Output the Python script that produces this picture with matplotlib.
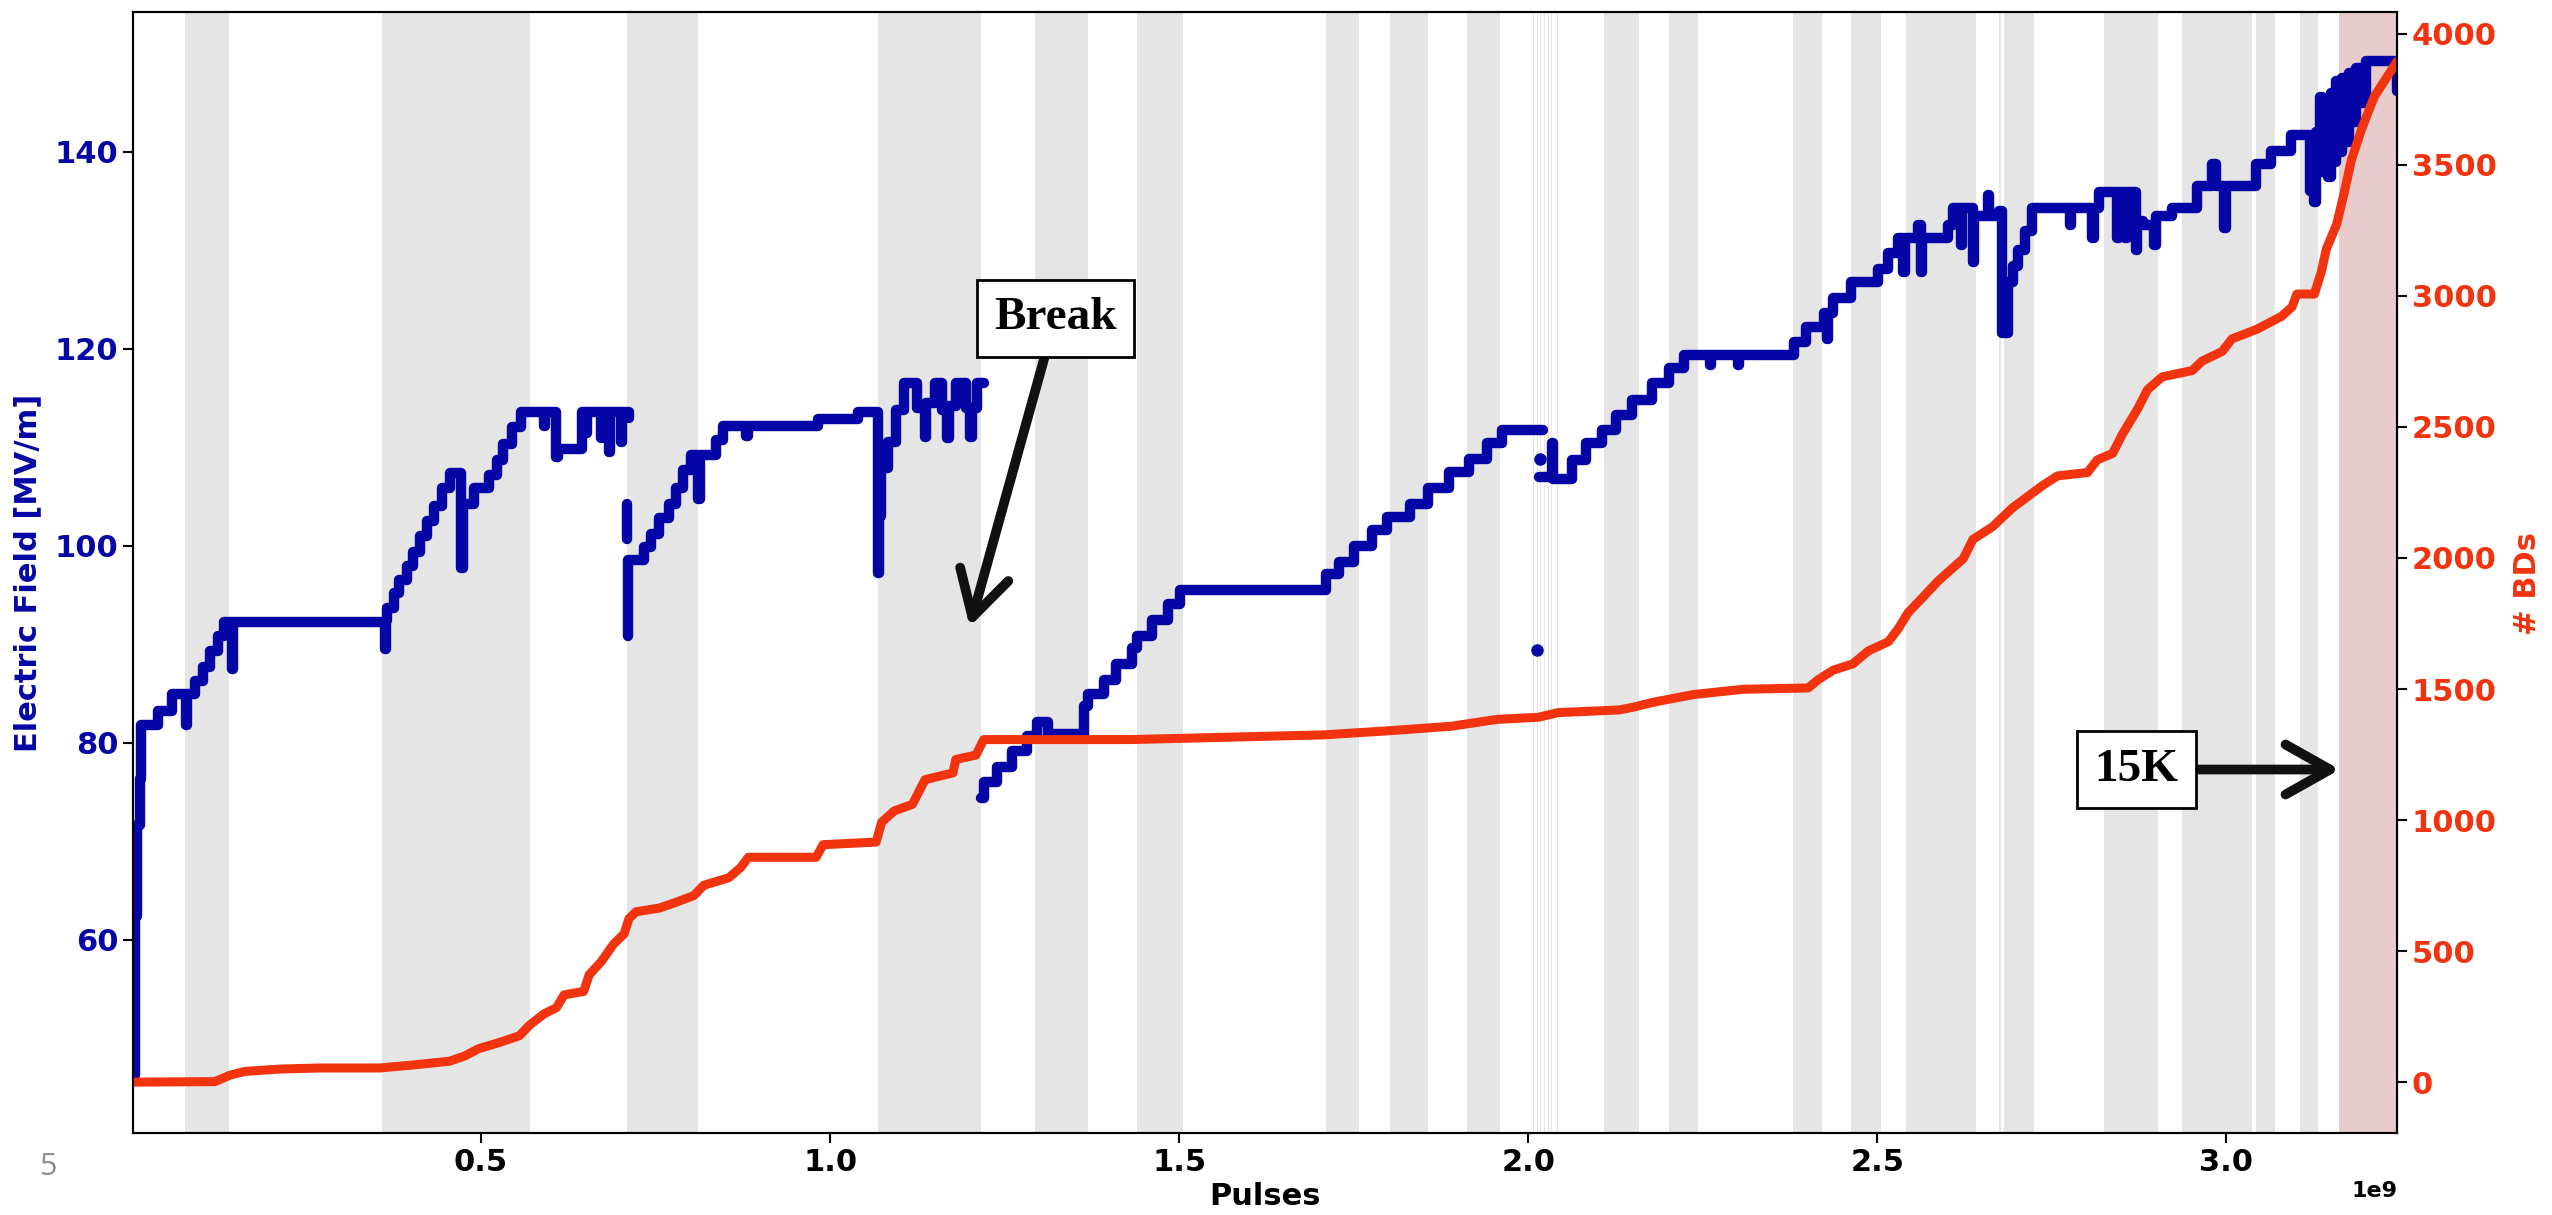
import numpy as np
import matplotlib.pyplot as plt

# x values are in units of 1e9 pulses
blue_pulses = [0.0015, 0.004, 0.008, 0.011, 0.013, 0.037, 0.057, 0.077, 0.079, 0.091,
               0.102, 0.112, 0.123, 0.132, 0.143, 0.145, 0.362, 0.364, 0.366, 0.376,
               0.383, 0.394, 0.403, 0.412, 0.423, 0.433, 0.444, 0.455, 0.472, 0.474,
               0.490, 0.512, 0.523, 0.532, 0.544, 0.558, 0.590, 0.592, 0.608, 0.610,
               0.644, 0.650, 0.652, 0.672, 0.674, 0.683, 0.685, 0.700, 0.702, 0.7115,
               np.nan,
               0.7085, 0.7085,
               np.nan,
               0.710, 0.711, 0.733, 0.744, 0.755, 0.769, 0.780, 0.790, 0.801, 0.811,
               0.813, 0.836, 0.847, 0.880, 0.882, 0.975, 0.983, 1.040, 1.068, 1.070,
               1.073, 1.083, 1.094, 1.106, 1.125, 1.136, 1.138, 1.150, 1.160, 1.168,
               1.170, 1.180, 1.195, 1.201, 1.203, 1.210, 1.220,
               np.nan,
               1.2165, 1.220, 1.2385, 1.260, 1.282, 1.297, 1.3116, 1.363, 1.370, 1.392,
               1.410, 1.432, 1.4397, 1.4616, 1.4835, 1.5018, 1.710, 1.7286, 1.7505, 1.776,
               1.798, 1.831, 1.8565, 1.886, 1.915, 1.941, 1.9626, 2.021,
               np.nan,
               2.016, 2.034, 2.036, 2.063, 2.083, 2.106, 2.126, 2.148, 2.177, 2.202,
               2.223, 2.260, 2.262, 2.300, 2.302, 2.380, 2.398, 2.423, 2.428, 2.430,
               2.437, 2.462, 2.501, 2.516, 2.530, 2.537, 2.539, 2.558, 2.562, 2.564,
               2.601, 2.608, 2.620, 2.622, 2.637, 2.639, 2.658, 2.660, 2.675, 2.679,
               2.687, 2.694, 2.701, 2.712, 2.722, 2.776, 2.778, 2.808, 2.810, 2.817,
               2.844, 2.846, 2.855, 2.857, 2.870, 2.872, 2.880, 2.897, 2.899, 2.922,
               2.958, 2.979, 2.985, 2.997, 2.999, 3.015, 3.043, 3.064, 3.093, 3.118,
               3.120, 3.123, 3.125, 3.128, 3.134, 3.137, 3.141, 3.145, 3.150, 3.153,
               3.157, 3.160, 3.165, 3.170, 3.176, 3.180, 3.186, 3.192, 3.200, 3.243,
               3.2445]
blue_field = [46.3, 62.4, 71.7, 76.3, 81.8, 83.2, 85.0, 81.8, 85.0, 86.3,
              87.7, 89.3, 90.9, 92.3, 87.5, 92.3, 89.5, 92.5, 93.7, 95.2,
              96.5, 98.0, 99.4, 101.0, 102.5, 104.1, 105.9, 107.4, 97.8, 104.3,
              105.9, 107.2, 108.7, 110.3, 112.1, 113.6, 112.2, 113.6, 109.0, 109.8,
              113.6, 111.5, 113.6, 111.0, 113.6, 109.5, 113.6, 110.5, 113.6, 113.0,
              np.nan,
              104.3, 100.7,
              np.nan,
              90.9, 98.6, 99.9, 101.2, 102.8, 104.3, 105.9, 107.7, 109.2, 104.8,
              109.2, 110.8, 112.2, 111.2, 112.2, 112.2, 112.9, 113.6, 97.3, 103.0,
              107.9, 110.5, 113.8, 116.5, 114.0, 111.1, 114.5, 116.5, 113.8, 111.0,
              114.2, 116.5, 114.0, 111.1, 114.0, 116.5, 116.5,
              np.nan,
              74.4, 76.0, 77.6, 79.2, 80.7, 82.1, 80.9, 83.7, 85.0, 86.4,
              88.0, 89.6, 90.9, 92.5, 94.1, 95.5, 97.1, 98.4, 100.0, 101.6,
              102.9, 104.3, 105.9, 107.5, 108.8, 110.4, 111.8, 111.8,
              np.nan,
              107.0, 110.4, 106.8, 108.7, 110.4, 111.8, 113.3, 114.8, 116.5, 118.1,
              119.4, 118.4, 119.4, 118.4, 119.4, 120.7, 122.2, 123.6, 121.0, 123.6,
              125.2, 126.8, 128.1, 129.7, 131.3, 127.8, 131.3, 132.6, 127.8, 131.3,
              132.6, 134.3, 130.5, 134.3, 128.8, 133.5, 135.6, 133.5, 134.0, 121.6,
              126.8, 128.4, 130.0, 132.0, 134.3, 132.6, 134.3, 131.3, 134.3, 135.9,
              131.3, 135.9, 131.3, 135.9, 130.0, 133.0, 132.6, 130.5, 133.5, 134.3,
              136.5, 138.8, 136.5, 132.3, 136.5, 136.5, 138.8, 140.1, 141.7, 141.7,
              136.0, 141.7, 134.9, 142.0, 145.6, 138.0, 144.0, 137.5, 146.0, 139.0,
              147.2, 140.0, 147.5, 141.0, 148.0, 143.0, 148.5, 145.0, 149.2, 149.2,
              146.2]

# isolated readings around the 2.0e9 gap
dot_pulses = [2.013, 2.0175]
dot_field = [89.4, 108.8]

bd_pulses = [0.0015, 0.119, 0.1408, 0.162, 0.212, 0.269, 0.355, 0.405, 0.455, 0.476,
             0.497, 0.526, 0.555, 0.569, 0.590, 0.608, 0.619, 0.647, 0.655, 0.672,
             0.690, 0.705, 0.712, 0.722, 0.755, 0.776, 0.805, 0.819, 0.855, 0.872,
             0.883, 0.980, 0.990, 1.066, 1.074, 1.092, 1.118, 1.136, 1.176, 1.180,
             1.209, 1.220, 1.429, 1.707, 1.802, 1.890, 1.955, 2.014, 2.043, 2.130,
             2.151, 2.180, 2.237, 2.308, 2.401, 2.415, 2.437, 2.465, 2.487, 2.516,
             2.530, 2.544, 2.566, 2.587, 2.623, 2.637, 2.665, 2.694, 2.737, 2.758,
             2.801, 2.815, 2.837, 2.851, 2.873, 2.887, 2.908, 2.951, 2.965, 2.994,
             3.008, 3.044, 3.079, 3.094, 3.101, 3.126, 3.136, 3.143, 3.158, 3.169,
             3.179, 3.194, 3.212, 3.2445]
bd_count = [0, 2, 27, 41, 50, 54, 54, 66, 80, 99,
            128, 151, 177, 216, 260, 284, 333, 346, 410, 459,
            527, 566, 624, 650, 664, 683, 712, 751, 780, 819,
            858, 858, 906, 916, 992, 1035, 1060, 1154, 1180, 1231,
            1248, 1307, 1307, 1325, 1341, 1358, 1384, 1392, 1410, 1420,
            1431, 1450, 1479, 1499, 1504, 1535, 1572, 1596, 1645, 1681,
            1730, 1791, 1852, 1912, 1997, 2071, 2119, 2192, 2277, 2313,
            2326, 2374, 2399, 2472, 2569, 2642, 2691, 2715, 2751, 2788,
            2836, 2873, 2922, 2958, 3007, 3007, 3092, 3177, 3274, 3396,
            3518, 3639, 3761, 3895]

# conditioning pauses (grey) and the final 15K period (pink)
pause_start = [0.0765, 0.358, 0.709, 1.068, 1.293, 1.440, 1.710, 1.802, 1.912, 2.109,
               2.201, 2.379, 2.463, 2.541, 2.681, 2.824, 2.937, 3.043, 3.105]
pause_end = [0.1395, 0.570, 0.811, 1.216, 1.370, 1.505, 1.758, 1.856, 1.960, 2.159,
             2.243, 2.421, 2.505, 2.641, 2.725, 2.902, 3.036, 3.069, 3.131]
short_pauses = [2.007, 2.012, 2.017, 2.022, 2.028, 2.032, 2.041, 2.675]
final_start, final_end = 3.162, 3.2445

BLUE = '#0606a6'
RED = '#f2330f'

plt.rcParams['font.family'] = 'DejaVu Sans'
plt.rcParams['font.weight'] = 'bold'
plt.rcParams['axes.labelweight'] = 'bold'

fig = plt.figure(figsize=(25.52, 12.15), dpi=100)
ax1 = fig.add_axes([0.0521, 0.0675, 0.8872, 0.9226])

for s, e in zip(pause_start, pause_end):
    ax1.axvspan(s * 1e9, e * 1e9, color='grey', alpha=0.2, lw=0)
for s in short_pauses:
    ax1.axvspan(s * 1e9, (s + 0.0015) * 1e9, color='grey', alpha=0.2, lw=0)
ax1.axvspan(final_start * 1e9, final_end * 1e9, color='#e8cccd', lw=0)

bx = np.array(blue_pulses) * 1e9
ax1.plot(bx, blue_field, color=BLUE, lw=7.5, drawstyle='steps-post',
         solid_joinstyle='round', solid_capstyle='round')
ax1.plot(np.array(dot_pulses) * 1e9, dot_field, 'o', color=BLUE, ms=8)

ax1.set_xlim(0.0015e9, 3.2445e9)
ax1.set_ylim(40.4, 154.2)
ax1.set_xticks(np.array([0.5, 1.0, 1.5, 2.0, 2.5, 3.0]) * 1e9)
ax1.set_yticks([60, 80, 100, 120, 140])
ax1.tick_params(axis='both', labelsize=22, width=1.5, length=7)
ax1.tick_params(axis='y', labelcolor=BLUE)
ax1.set_xlabel('Pulses', fontsize=22, labelpad=4)
ax1.set_ylabel('Electric Field [MV/m]', fontsize=22, color=BLUE)
ax1.yaxis.set_label_coords(-0.040, 0.5)
ax1.xaxis.get_offset_text().set_fontsize(16)
ax1.xaxis.get_offset_text().set_fontweight('bold')

ax2 = ax1.twinx()
ax2.plot(np.array(bd_pulses) * 1e9, bd_count, color=RED, lw=6.5,
         solid_joinstyle='round', solid_capstyle='round')
ax2.set_ylim(-194, 4083)
ax2.set_yticks([0, 500, 1000, 1500, 2000, 2500, 3000, 3500, 4000])
ax2.tick_params(axis='y', labelsize=22, width=1.5, length=7, labelcolor=RED)
ax2.set_ylabel('# BDs', fontsize=22, color=RED)
ax2.yaxis.set_label_coords(1.051, 0.49)
for ax in (ax1, ax2):
    for sp in ax.spines.values():
        sp.set_linewidth(1.5)

box = dict(boxstyle='square,pad=0.37', fc='white', ec='black', lw=2)
arrow = dict(arrowstyle='->,head_length=1.6,head_width=0.9', lw=7, color='#111111',
             shrinkA=0, shrinkB=0, mutation_scale=20, capstyle='round')
ax2.annotate('Break', xy=(1.2000e9, 91.8), xytext=(1.3226e9, 123.1),
             xycoords=ax1.transData, textcoords=ax1.transData,
             fontsize=34, family='Liberation Serif', fontweight='bold',
             ha='center', va='center', bbox=box, arrowprops=arrow)
ax2.annotate('15K', xy=(3.1625e9, 77.3), xytext=(2.8707e9, 77.3),
             xycoords=ax1.transData, textcoords=ax1.transData,
             fontsize=34, family='Liberation Serif', fontweight='bold',
             ha='center', va='center', bbox=box, arrowprops=arrow)

fig.text(48 / 2552, 1 - 1167 / 1215, '5', color='#8c8c8c', fontsize=22,
         fontweight='normal', family='Open Sans', ha='center', va='center')

fig.savefig('out.png', dpi=100)
